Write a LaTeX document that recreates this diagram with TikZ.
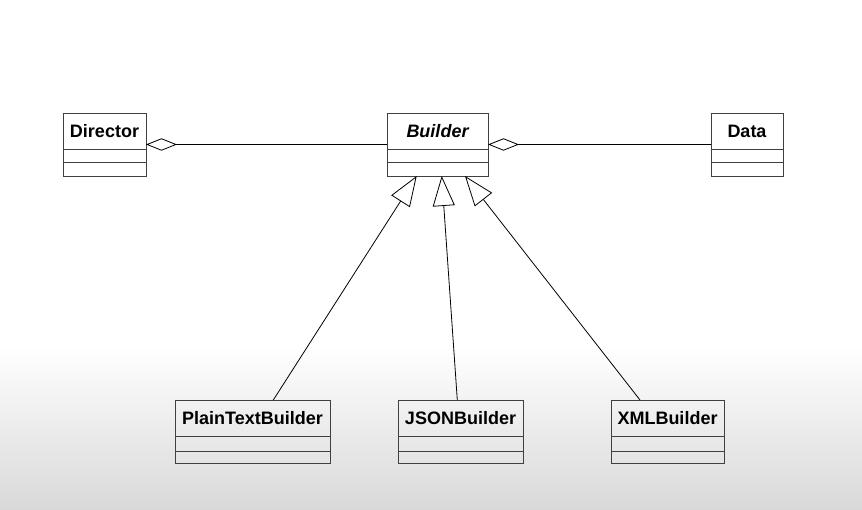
\documentclass[tikz,border=0pt]{standalone}
\usepackage{fontspec}
\setmainfont{Liberation Sans}
\usetikzlibrary{positioning,arrows.meta}

\tikzset{
  classname/.style={draw=black!75, line width=0.95pt, inner sep=0pt, outer sep=0pt,
    minimum height=36pt, font=\bfseries\fontsize{18}{20}\selectfont},
  classpart/.style={draw=black!75, line width=0.95pt, inner sep=0pt, outer sep=0pt,
    minimum height=#1},
  aggr/.style={{Diamond[open,length=31pt,width=12.4pt]}-, line width=0.8pt},
  inherit/.style={-{Triangle[open,length=30pt,width=22pt]}, line width=0.8pt},
}

\begin{document}
\begin{tikzpicture}[x=1pt, y=-1pt]
      \useasboundingbox (0, 0) rectangle (862, 510);
      \shade[top color=white, bottom color=black!15] (0, 345) rectangle (862, 510);

      % top row
      \node[classname, minimum width=83pt] (director) at (104.5, 131) {Director};
      \node[classpart=13pt, minimum width=83pt, below=0pt of director] (director-attr) {};
      \node[classpart=14pt, minimum width=83pt, below=0pt of director-attr] (director-ops) {};

      \node[classname, minimum width=101pt, font=\bfseries\itshape\fontsize{18}{20}\selectfont] (builder) at (437.5, 131) {Builder};
      \node[classpart=13pt, minimum width=101pt, below=0pt of builder] (builder-attr) {};
      \node[classpart=14pt, minimum width=101pt, below=0pt of builder-attr] (builder-ops) {};

      \node[classname, minimum width=72pt] (data) at (747, 131) {Data};
      \node[classpart=13pt, minimum width=72pt, below=0pt of data] (data-attr) {};
      \node[classpart=14pt, minimum width=72pt, below=0pt of data-attr] (data-ops) {};

      % bottom row
      \node[classname, minimum width=155pt] (plain) at (252.5, 418) {PlainTextBuilder};
      \node[classpart=15pt, minimum width=155pt, below=0pt of plain] (plain-attr) {};
      \node[classpart=12pt, minimum width=155pt, below=0pt of plain-attr] (plain-ops) {};

      \node[classname, minimum width=125pt] (json) at (460.5, 418) {JSONBuilder};
      \node[classpart=15pt, minimum width=125pt, below=0pt of json] (json-attr) {};
      \node[classpart=12pt, minimum width=125pt, below=0pt of json-attr] (json-ops) {};

      \node[classname, minimum width=113pt] (xml) at (667.5, 418) {XMLBuilder};
      \node[classpart=15pt, minimum width=113pt, below=0pt of xml] (xml-attr) {};
      \node[classpart=12pt, minimum width=113pt, below=0pt of xml-attr] (xml-ops) {};

      \draw[aggr] ([yshift=-13.5pt]director.east) -- ([yshift=-13.5pt]builder.west);
      \draw[aggr] ([yshift=-13.5pt]builder.east) -- ([yshift=-13.5pt]data.west);

      \draw[inherit] ([xshift=20.8pt]plain.north) -- ([xshift=-20.8pt]builder-ops.south);
      \draw[inherit] ([xshift=-3.2pt]json.north) -- ([xshift=4.2pt]builder-ops.south);
      \draw[inherit] ([xshift=-27.5pt]xml.north) -- ([xshift=27.5pt]builder-ops.south);
    \end{tikzpicture}
\end{document}
